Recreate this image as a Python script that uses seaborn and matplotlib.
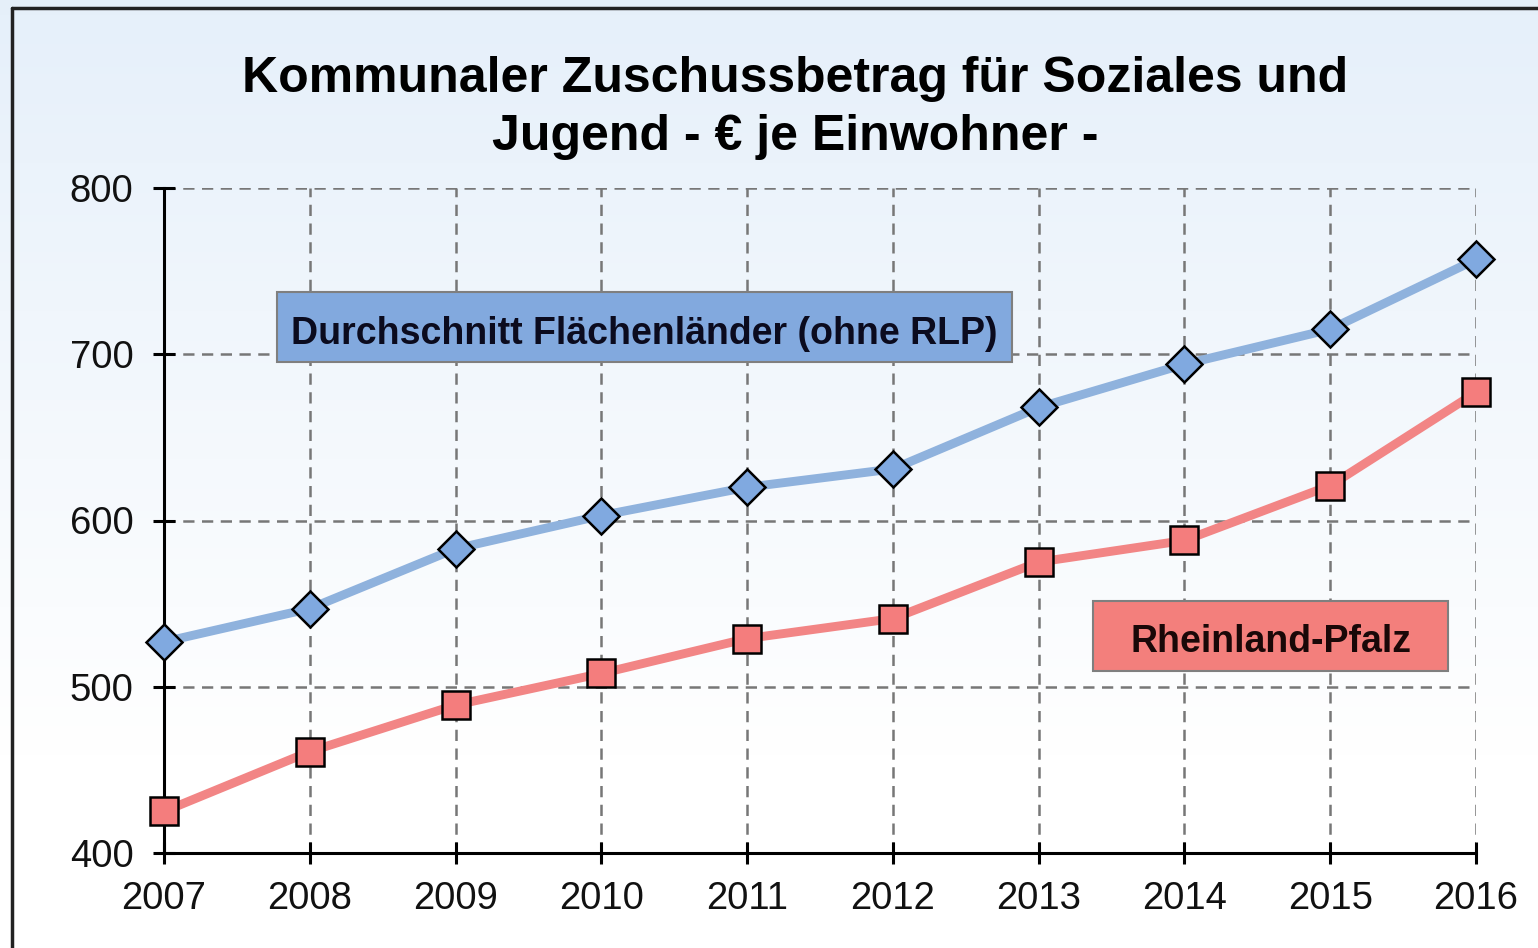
import numpy as np
import pandas as pd
import matplotlib
matplotlib.use("Agg")
import matplotlib.pyplot as plt
import seaborn as sns
from matplotlib.patches import Rectangle
from matplotlib.lines import Line2D

years = [2007, 2008, 2009, 2010, 2011, 2012, 2013, 2014, 2015, 2016]
flaechenlaender = [527, 547, 583, 603, 620, 631, 668, 694, 715, 757]
rheinland_pfalz = [425, 461, 489, 508, 529, 541, 575, 588, 621, 677]
y_ticks = [400, 500, 600, 700, 800]

title = "Kommunaler Zuschussbetrag für Soziales und\nJugend - € je Einwohner -"
label_fl = "Durchschnitt Flächenländer (ohne RLP)"
label_rlp = "Rheinland-Pfalz"

df = pd.DataFrame({"Jahr": years, "FL": flaechenlaender, "RLP": rheinland_pfalz})

sns.set_theme(style="white")
plt.rcParams["font.family"] = ["Liberation Sans", "DejaVu Sans"]

fig = plt.figure(figsize=(15.38, 9.48), dpi=100)

# background gradient (light blue at top fading to white)
bg = fig.add_axes([0, 0, 1, 1], zorder=-10)
grad = np.linspace(0, 1, 256).reshape(-1, 1)
top = np.array([0.90, 0.94, 0.98])
bottom = np.array([1.0, 1.0, 1.0])
t = np.clip(grad / 0.8, 0, 1)
img = top * (1 - t)[..., None] + bottom * t[..., None]
img = img.reshape(256, 1, 3)
bg.imshow(img, aspect="auto", extent=[0, 1, 0, 1], origin="upper")
bg.set_axis_off()

# frame lines (top and left)
fig.add_artist(Line2D([12 / 1538, 12 / 1538], [0, 1 - 8 / 948], color="#222222", lw=2.5))
fig.add_artist(Line2D([12 / 1538, 1], [1 - 8 / 948, 1 - 8 / 948], color="#222222", lw=2.5))

ax = fig.add_axes([164 / 1538, 1 - 853 / 948, 1312 / 1538, 665 / 948])
ax.set_facecolor("none")

sns.lineplot(data=df, x="Jahr", y="FL", ax=ax, color="#8fb2dd", lw=6.4,
             marker="D", markersize=18, markerfacecolor="#80a9e0",
             markeredgecolor="black", markeredgewidth=1.8, zorder=5, clip_on=False)
sns.lineplot(data=df, x="Jahr", y="RLP", ax=ax, color="#f28585", lw=6.4,
             marker="s", markersize=20, markerfacecolor="#f47d7d",
             markeredgecolor="black", markeredgewidth=1.8, zorder=5, clip_on=False)

ax.set_xlim(years[0], years[-1])
ax.set_ylim(y_ticks[0], y_ticks[-1])
ax.set_xticks(years)
ax.set_yticks(y_ticks)
ax.set_xlabel("")
ax.set_ylabel("")

ax.grid(True, color="#777777", linestyle=(0, (4.5, 3)), lw=1.8)
ax.set_axisbelow(True)
for side in ["top", "right"]:
    ax.spines[side].set_visible(False)
for side in ["left", "bottom"]:
    ax.spines[side].set_color("black")
    ax.spines[side].set_linewidth(2.2)
    ax.spines[side].set_zorder(4)

ax.tick_params(axis="both", which="major", bottom=True, left=True,
               direction="inout", length=16, width=2.2, color="black",
               labelsize=27.5, labelcolor="#111111")
ax.tick_params(axis="y", pad=14)
ax.tick_params(axis="x", pad=12)

# label boxes
ax.add_patch(Rectangle((0.086, 0.738), 0.560, 0.106, transform=ax.transAxes,
                       facecolor="#82a9de", edgecolor="#7f7f7f", lw=1.5, zorder=3))
ax.text(0.366, 0.781, label_fl, transform=ax.transAxes, ha="center", va="center",
        fontsize=27, fontweight="bold", color="#0b0b1e", zorder=4)
ax.add_patch(Rectangle((0.708, 0.274), 0.271, 0.105, transform=ax.transAxes,
                       facecolor="#f37f7c", edgecolor="#7f7f7f", lw=1.5, zorder=3))
ax.text(0.8435, 0.318, label_rlp, transform=ax.transAxes, ha="center", va="center",
        fontsize=27, fontweight="bold", color="#1a0808", zorder=4)

fig.text(795 / 1538, 1 - 108 / 948, title, ha="center", va="center",
         fontsize=36, fontweight="bold", color="black", linespacing=1.35)

fig.savefig("out.png", dpi=100)
